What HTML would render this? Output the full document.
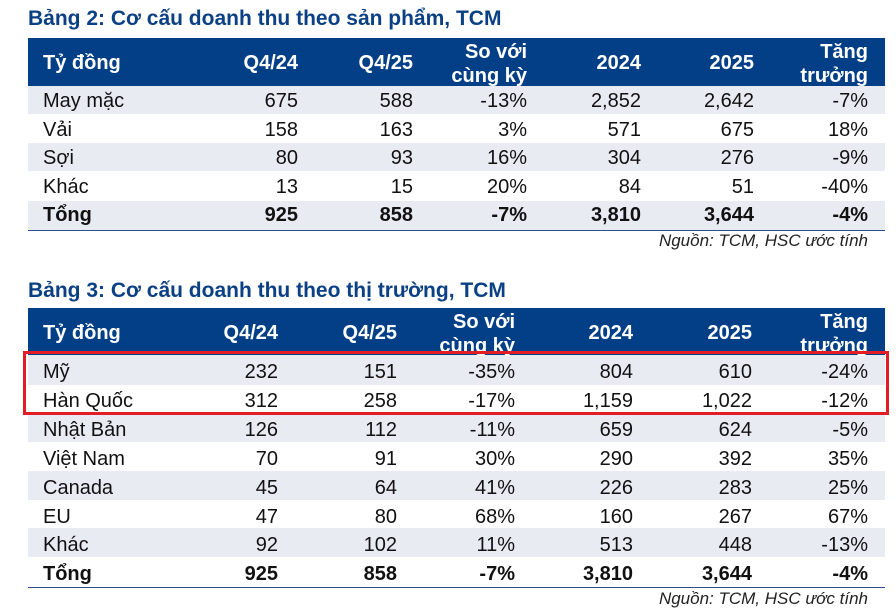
<!DOCTYPE html>
<html><head><meta charset="utf-8"><style>
body{margin:0;width:896px;height:612px;background:#fff;position:relative;overflow:hidden;font-family:"Liberation Sans",Arial,sans-serif;}
.t{position:absolute;left:28px;font-weight:bold;font-size:21px;color:#0b4184;white-space:nowrap;}
.hd{position:absolute;left:28px;width:857px;background:#033f86;}
.r{position:absolute;left:28px;width:857px;height:29px;}
.s{background:#e9ebf3;}
.c{position:absolute;font-size:20px;color:#111;white-space:nowrap;line-height:20px;}
.h{color:#fff;font-weight:bold;text-align:right;}
.line{position:absolute;left:28px;width:857px;height:1px;background:#2a4f8a;}
.src{position:absolute;right:28px;font-style:italic;font-size:17px;color:#222;}
</style></head><body>
<div class="t" style="top:7px">Bảng 2: Cơ cấu doanh thu theo sản phẩm, TCM</div>
<div class="hd" style="top:38px;height:48px"></div>
<div class="r s" style="top:86px;height:28px"></div>
<div class="r s" style="top:143px;height:28px"></div>
<div class="r s" style="top:201px"></div>
<div class="line" style="top:230px"></div>
<div class="src" style="top:231px">Nguồn: TCM, HSC ước tính</div>

<div class="t" style="top:279px">Bảng 3: Cơ cấu doanh thu theo thị trường, TCM</div>
<div class="hd" style="top:308px;height:47px"></div>
<div class="r s" style="top:355px;height:30px"></div>
<div class="r s" style="top:413px"></div>
<div class="r s" style="top:471px"></div>
<div class="r s" style="top:528px"></div>
<div class="line" style="top:587px"></div>
<div class="src" style="top:589px">Nguồn: TCM, HSC ước tính</div>

<div style="position:absolute;left:23px;top:351px;width:860px;height:58px;border:3px solid #e31d25;z-index:2"></div>
<script>
function put(x,y,txt,cls,right){var d=document.createElement('div');d.className='c '+(cls||'');d.textContent=txt;d.style.top=(y-10)+'px';if(right){d.style.right=(896-x)+'px';}else d.style.left=x+'px';document.body.appendChild(d);return d;}
function table(cols,hy1,hy2,hmid,rows,y0,rh){
 put(43,hmid,'Tỷ đồng','h');
 var H=[['Q4/24'],['Q4/25'],['So với','cùng kỳ'],['2024'],['2025'],['Tăng','trưởng']];
 H.forEach(function(h,i){if(h.length==1)put(cols[i],hmid,h[0],'h',1);else{put(cols[i],hy1,h[0],'h',1);put(cols[i],hy2,h[1],'h',1);}});
 rows.forEach(function(r,j){var y=y0+j*rh;var b=j==rows.length-1;var e=put(43,y,r[0],b?'h':'');if(b)e.style.color='#111';r.slice(1).forEach(function(v,i){var e=put(cols[i],y,v,b?'h':'',1);if(b)e.style.color='#111';});});
}
table([298,413,527,641,754,868],52,76,63,[
['May mặc','675','588','-13%','2,852','2,642','-7%'],
['Vải','158','163','3%','571','675','18%'],
['Sợi','80','93','16%','304','276','-9%'],
['Khác','13','15','20%','84','51','-40%'],
['Tổng','925','858','-7%','3,810','3,644','-4%']],101,28.6);
table([278,397,515,633,752,868],322,346,333,[
['Mỹ','232','151','-35%','804','610','-24%'],
['Hàn Quốc','312','258','-17%','1,159','1,022','-12%'],
['Nhật Bản','126','112','-11%','659','624','-5%'],
['Việt Nam','70','91','30%','290','392','35%'],
['Canada','45','64','41%','226','283','25%'],
['EU','47','80','68%','160','267','67%'],
['Khác','92','102','11%','513','448','-13%'],
['Tổng','925','858','-7%','3,810','3,644','-4%']],372,28.9);
</script>
</body></html>
